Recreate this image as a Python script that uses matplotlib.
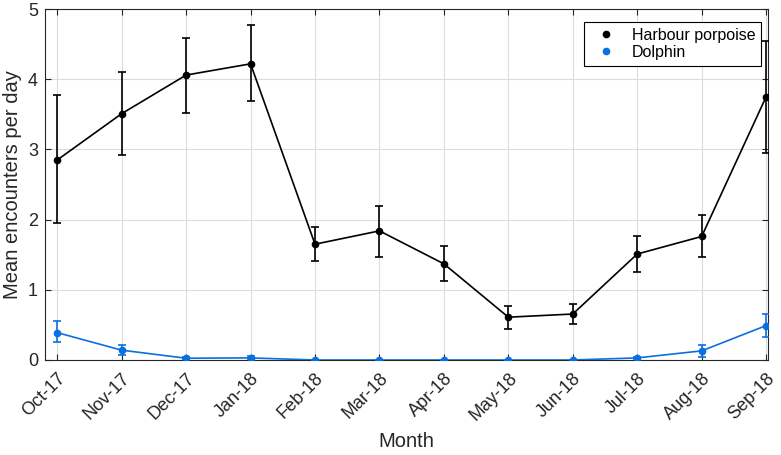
import matplotlib.pyplot as plt
from matplotlib.lines import Line2D
from matplotlib.transforms import ScaledTranslation
import numpy as np

plt.rcParams['font.family'] = ['Liberation Sans', 'DejaVu Sans']

months = ['Oct-17', 'Nov-17', 'Dec-17', 'Jan-18', 'Feb-18', 'Mar-18',
          'Apr-18', 'May-18', 'Jun-18', 'Jul-18', 'Aug-18', 'Sep-18']

# harbour porpoise: mean, lower and upper error bar ends
hp_mean = [2.85, 3.51, 4.06, 4.22, 1.65, 1.84, 1.37, 0.61, 0.655, 1.51, 1.76, 3.75]
hp_low = [1.95, 2.92, 3.52, 3.69, 1.41, 1.47, 1.12, 0.44, 0.51, 1.25, 1.47, 2.95]
hp_high = [3.77, 4.11, 4.59, 4.77, 1.89, 2.20, 1.62, 0.77, 0.80, 1.76, 2.06, 4.55]

# dolphin
dol_mean = [0.39, 0.14, 0.025, 0.03, 0.0, 0.0, 0.0, 0.0, 0.0, 0.03, 0.13, 0.49]
dol_low = [0.25, 0.07, 0.01, 0.01, 0.0, 0.0, 0.0, 0.0, 0.0, 0.015, 0.04, 0.33]
dol_high = [0.55, 0.21, 0.04, 0.05, 0.0, 0.0, 0.0, 0.0, 0.0, 0.045, 0.21, 0.65]

blue = '#0a6fe0'
x = np.arange(len(months))

fig = plt.figure(figsize=(7.81, 4.55), dpi=100)
ax = fig.add_axes([0.0576, 0.2088, 0.9258, 0.7712])

def draw(mean, low, high, color):
    mean = np.array(mean)
    yerr = [mean - np.array(low), np.array(high) - mean]
    ax.errorbar(x, mean, yerr=yerr, color=color, marker='o', markersize=4.5,
                linewidth=1.2, elinewidth=1.2, capsize=3, capthick=1.2, zorder=3)

draw(hp_mean, hp_low, hp_high, 'black')
draw(dol_mean, dol_low, dol_high, blue)

ax.set_xlim(-0.19, 11.03)
ax.set_ylim(0, 5)
ax.set_xticks(x)
ax.set_xticklabels(months, rotation=45, ha='right', va='top', rotation_mode='anchor')
shift = ScaledTranslation(4 / 100, 0, fig.dpi_scale_trans)
for lab in ax.get_xticklabels():
    lab.set_transform(lab.get_transform() + shift)
ax.set_yticks(range(6))
ax.tick_params(direction='in', top=True, right=True, labelsize=13, length=4,
               width=0.8, color='#262626', labelcolor='#262626')
ax.tick_params(axis='x', pad=7)
ax.tick_params(axis='y', pad=5)
ax.grid(True, color='#dcdcdc', linewidth=0.8)
ax.set_axisbelow(True)
for s in ax.spines.values():
    s.set_color('#262626')
    s.set_linewidth(0.8)

ax.set_xlabel('Month', fontsize=14.5, color='#262626', labelpad=6)
ax.set_ylabel('Mean encounters per day', fontsize=14.5, color='#262626', labelpad=4)

handles = [Line2D([], [], color='black', marker='o', linestyle='none', markersize=4.5),
           Line2D([], [], color=blue, marker='o', linestyle='none', markersize=4.5)]
leg = ax.legend(handles, ['Harbour porpoise', 'Dolphin'], loc='upper right',
                bbox_to_anchor=(0.990, 0.963), borderaxespad=0,
                fontsize=11.5, fancybox=False, framealpha=1, edgecolor='black',
                handletextpad=0.6, borderpad=0.35, labelspacing=0.15,
                handlelength=2.0)
leg.get_frame().set_linewidth(0.8)

fig.savefig('out.png', dpi=100)
